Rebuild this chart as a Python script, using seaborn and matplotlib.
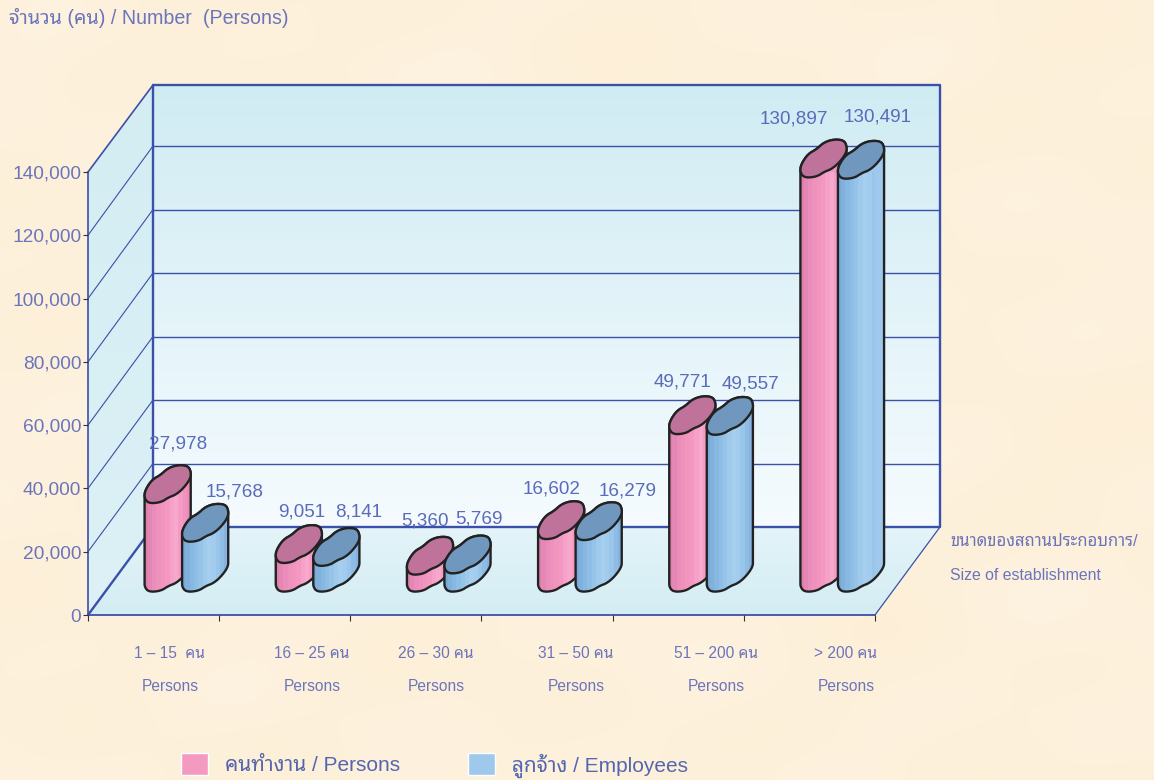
import numpy as np
import pandas as pd
import matplotlib
matplotlib.use("Agg")
import matplotlib.pyplot as plt
import seaborn as sns
from matplotlib.path import Path
from matplotlib.patches import PathPatch, Rectangle, Polygon
from matplotlib.transforms import Affine2D, IdentityTransform

# ---- data ----
size_line1 = ["1 – 15  คน", "16 – 25 คน", "26 – 30 คน", "31 – 50 คน", "51 – 200 คน", "> 200 คน"]
categories = ["1-15", "16-25", "26-30", "31-50", "51-200", ">200"]
persons = [27978, 9051, 5360, 16602, 49771, 130897]
employees = [15768, 8141, 5769, 16279, 49557, 130491]
series_names = ["คนทำงาน / Persons", "ลูกจ้าง / Employees"]
y_ticks = [0, 20000, 40000, 60000, 80000, 100000, 120000, 140000]

sns.set_theme(style="white")
plt.rcParams["font.family"] = ["Liberation Sans", "Noto Sans Thai Looped", "DejaVu Sans"]

W, H = 1154, 780
fig = plt.figure(figsize=(W / 100, H / 100), dpi=100)
bg = fig.add_axes([0, 0, 1, 1], zorder=0)
bg.set_xlim(0, W); bg.set_ylim(H, 0); bg.axis("off")

yy, xx = np.mgrid[0:1:60j, 0:1:90j]
tex = (np.sin(xx * 17 + 1.3) * np.sin(yy * 13 + 0.4) + 0.6 * np.sin(xx * 31 + yy * 23) + 0.5 * np.sin(yy * 37 - xx * 11 + 2))
tex = tex[..., None]
img = np.clip((np.array([253.5, 241, 220]) + tex * np.array([0.2, 0.8, 2.2])) / 255, 0, 1)
bg.imshow(img, extent=(0, W, H, 0), aspect="auto", interpolation="bicubic", zorder=0)

LINE = "#3B50A8"
TXT = "#6C75BB"
x0, x1, y0, ytop = 88, 875, 615, 172
DX, DY = 65, 88
px = (y0 - ytop) / 140000
px_back = 63.5 / 20000


def grad(poly, top_color, bot_color, ya, yb, z=1):
    patch = Polygon(poly, closed=True, fc="none", ec="none", zorder=z)
    bg.add_patch(patch)
    c0 = np.array(matplotlib.colors.to_rgb(top_color))
    c1 = np.array(matplotlib.colors.to_rgb(bot_color))
    arr = (c0 + np.linspace(0, 1, 64)[:, None] * (c1 - c0))[:, None, :]
    im = bg.imshow(arr, extent=(0, W, yb, ya), aspect="auto", zorder=z, interpolation="bilinear")
    im.set_clip_path(patch)


ybk0, ybkt = y0 - DY, 85
grad([(x0 + DX, ybkt), (x1 + DX, ybkt), (x1 + DX, ybk0), (x0 + DX, ybk0)], "#D0ECF3", "#F5FBFE", ybkt, ybk0)
grad([(x0, y0), (x0 + DX, ybk0), (x1 + DX, ybk0), (x1, y0)], "#E4F4F9", "#D3EDF3", ybk0, y0)
grad([(x0, ytop), (x0 + DX, ybkt), (x0 + DX, ybk0), (x0, y0)], "#D3EDF3", "#DDF1F6", ybkt, y0)
bg.set_xlim(0, W); bg.set_ylim(H, 0)

for v in y_ticks[1:-1]:
    y_front = y0 - v * px
    y_back = ybk0 - v * px_back
    bg.plot([x0, x0 + DX], [y_front, y_back], color=LINE, lw=0.8, zorder=2)
    bg.plot([x0 + DX, x1 + DX], [y_back, y_back], color=LINE, lw=1.0, zorder=2)
bg.plot([x0 + DX, x1 + DX, x1 + DX, x0 + DX, x0 + DX], [ybkt, ybkt, ybk0, ybk0, ybkt], color=LINE, lw=1.7, zorder=2)
bg.plot([x0, x0 + DX], [ytop, ybkt], color=LINE, lw=1.2, zorder=2)
bg.plot([x0, x0], [ytop, y0], color=LINE, lw=1.2, zorder=2)
bg.plot([x0, x0 + DX], [y0, ybk0], color=LINE, lw=1.7, zorder=2)
bg.plot([x1, x1 + DX], [y0, ybk0], color=LINE, lw=0.9, zorder=2)
bg.plot([x0, x1], [y0, y0], color=LINE, lw=1.3, zorder=2)

# ---- main data axes (front plane of the box) ----
ax = fig.add_axes([x0 / W, (H - y0) / H, (x1 - x0) / W, (y0 - ytop) / H], zorder=1)
ax.patch.set_alpha(0)
df = pd.DataFrame({
    "size": categories * 2,
    "count": persons + employees,
    "series": [series_names[0]] * 6 + [series_names[1]] * 6,
})
PINK, BLUE = "#F49AC1", "#9FC9EC"
sns.barplot(data=df, x="size", y="count", hue="series", order=categories, hue_order=series_names,
            palette=[PINK, BLUE], width=0.572, saturation=1, ax=ax, zorder=3)
ax.set_xlim(-0.5, 5.5)
ax.set_ylim(0, 140000)
ax.set_xlabel(""); ax.set_ylabel("")
for s in ax.spines.values():
    s.set_visible(False)
ax.set_yticks(y_ticks)
ax.set_yticklabels([f"{v:,}" for v in y_ticks])
ax.set_xticks(np.arange(-0.5, 6))
ax.set_xticklabels([""] * 7)
ax.tick_params(axis="y", left=True, length=3.6, width=0.8, color="#333333", labelcolor=TXT, labelsize=13.75, pad=1.2)
ax.tick_params(axis="x", bottom=True, length=4.3, width=0.8, color="#333333")
ax.grid(False)

# outline of the irregular cylinder section, in pixels around its centre
blob_raw = 0.95 * np.array([
    (-24.5, 14), (-23, 6), (-16, -4.5), (-7, -9.5), (0.5, -16.5), (11, -20),
    (22, -19), (25, -12), (24, -5), (16.5, 5), (8.5, 11.5), (1.5, 14), (-7, 19.5), (-20, 20.5),
])


def chaikin(p, n=2):
    for _ in range(n):
        q = np.roll(p, -1, axis=0)
        p = np.column_stack([0.75 * p + 0.25 * q, 0.25 * p + 0.75 * q]).reshape(-1, 2)
    return p


blob = chaikin(blob_raw)
blob[:, 1] *= -1  # display y points up
iL, iR = blob[:, 0].argmin(), blob[:, 0].argmax()
rolled = np.roll(blob, -iL, axis=0)
kR = (iR - iL) % len(blob)
upper, lower = rolled[: kR + 1], rolled[kR:]
lower = np.vstack([lower, rolled[:1]])

OFF = np.array([32.5, 42.5])
EDGE = "#222222"
shades = {
    0: ["#DE7FAE", "#E587B5", "#EA8DBA", "#EE92BD", "#F195BF", "#F498C1", "#F6A2C8", "#F7A8CC", "#F59CC4", "#EF92BD", "#E98BB8"],
    1: ["#78A9D8", "#80B1DD", "#87B8E1", "#8EBEE5", "#96C4E9", "#9FCAEC", "#A6CFEF", "#A2CCED", "#99C5EA", "#8FBCE4", "#85B2DE"],
}
tops = {0: "#C0739A", 1: "#7097BD"}
fills = {0: PINK, 1: BLUE}
z = 3.0
fig.canvas.draw()
for c in range(6):
    for h, cont in enumerate(ax.containers):
        rect = cont[c]
        cx_data = rect.get_x() + rect.get_width() / 2
        val = rect.get_height()
        rect.set_width(46 / ((x1 - x0) / 6))
        rect.set_x(cx_data - rect.get_width() / 2)
        base = ax.transData.transform((cx_data, 0)) + OFF
        top = ax.transData.transform((cx_data, val)) + OFF
        verts = np.vstack([upper + top, lower + base])
        body = PathPatch(Path(np.vstack([verts, verts[:1]])), fc=fills[h], ec="none",
                         transform=IdentityTransform(), zorder=z, clip_on=False)
        ax.add_patch(body)
        rect.set_transform(ax.transData + Affine2D().translate(*OFF))
        rect.set_zorder(z + 0.1)
        rect.set_clip_path(body)
        xs = np.linspace(base[0] - 24, base[0] + 24, len(shades[h]) + 1)
        for i, col in enumerate(shades[h]):
            st = Rectangle((xs[i], base[1] - 30), xs[i + 1] - xs[i] + 0.5, top[1] - base[1] + 60, fc=col, ec="none",
                           transform=IdentityTransform(), zorder=z + 0.2, antialiased=False)
            ax.add_patch(st)
            st.set_clip_path(body)
        ax.add_patch(PathPatch(Path(np.vstack([verts, verts[:1]])), fc="none", ec=EDGE, lw=1.7,
                               transform=IdentityTransform(), zorder=z + 0.3, clip_on=False, joinstyle="round"))
        ax.add_patch(PathPatch(Path(np.vstack([blob + top, (blob + top)[:1]])), fc=tops[h], ec=EDGE, lw=1.7,
                               transform=IdentityTransform(), zorder=z + 0.4, clip_on=False, joinstyle="round"))
        z += 1

ov = fig.add_axes([0, 0, 1, 1], zorder=5)
ov.set_xlim(0, W); ov.set_ylim(H, 0); ov.axis("off")

# ---- value labels ----
label_xy = [[(178, 444), (302, 512), (425, 521), (552, 489), (682, 382), (794, 119)],
            [(235, 492), (358.5, 512), (479, 519), (627.5, 491), (751, 384), (878, 117)]]
for vals, xys in zip((persons, employees), label_xy):
    for v, (lx, ly) in zip(vals, xys):
        ov.text(lx, ly, f"{v:,}", ha="center", va="center", color="#5A6BBB", fontsize=13.6)

# ---- category labels ----
label_x = [170, 312, 436, 576, 716, 846]
for lx, lab in zip(label_x, size_line1):
    ov.text(lx, 653, lab, ha="center", va="center", color=TXT, fontsize=11.2)
    ov.text(lx, 686.5, "Persons", ha="center", va="center", color=TXT, fontsize=11.2)

ov.text(9, 18, "จำนวน (คน) / Number  (Persons)", ha="left", va="center", color=TXT, fontsize=14.15)
ov.text(950, 542, "ขนาดของสถานประกอบการ/", ha="left", va="center", color=TXT, fontsize=12)
ov.text(950, 575.5, "Size of establishment", ha="left", va="center", color=TXT, fontsize=11.4)

# ---- legend ----
handles, labels = ax.get_legend_handles_labels()
ax.get_legend().remove()
fig.legend(handles, labels, loc="center left", bbox_to_anchor=(181 / W, (H - 765.5) / H), ncol=2, frameon=False,
           fontsize=15, labelcolor="#5566B0", borderpad=0, borderaxespad=0, handlelength=1.3, handleheight=1.25,
           handletextpad=0.82, columnspacing=3.25)

fig.savefig("out.png", dpi=100)
